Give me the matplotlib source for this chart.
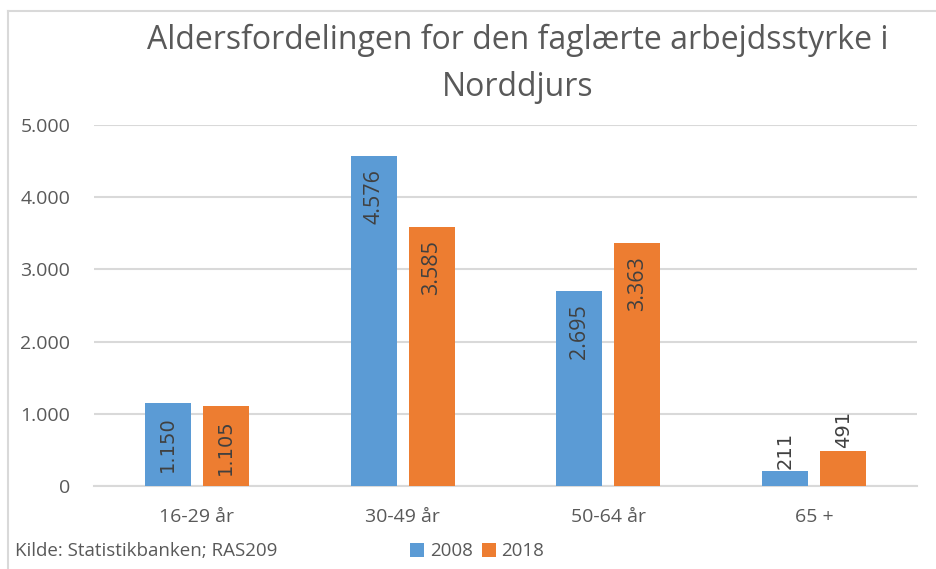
import matplotlib
matplotlib.use("Agg")
import matplotlib.pyplot as plt
import numpy as np
from matplotlib.patches import Patch
from matplotlib.lines import Line2D

categories = ["16-29 år", "30-49 år", "50-64 år", "65 +"]
series_names = ["2008", "2018"]
values_2008 = [1150, 4576, 2695, 211]
values_2018 = [1105, 3585, 3363, 491]
yticks = [0, 1000, 2000, 3000, 4000, 5000]
ytick_labels = ["0", "1.000", "2.000", "3.000", "4.000", "5.000"]
title = "Aldersfordelingen for den faglærte arbejdsstyrke i\nNorddjurs"
source = "Kilde: Statistikbanken; RAS209"

colors = ["#5B9BD5", "#ED7D31"]
text_color = "#595959"
label_color = "#404040"
FONT = "Open Sans"

fig = plt.figure(figsize=(9.36, 5.69), dpi=100)
ax = fig.add_axes([0.1004, 0.1459, 0.8793, 0.6344])

x = np.arange(len(categories))
width = 0.224
offset = 0.141
bars = []
for i, (vals, col) in enumerate(zip([values_2008, values_2018], colors)):
    b = ax.bar(x + (i * 2 - 1) * offset, vals, width, color=col, label=series_names[i], zorder=3)
    bars.append(b)

def fmt(v):
    return f"{v:,}".replace(",", ".")

for b in bars:
    for j, rect in enumerate(b):
        v = rect.get_height()
        cx = rect.get_x() + rect.get_width() / 2
        fam = "DejaVu Sans" if j in (0, 3) else FONT
        fs = 14 if j in (0, 3) else 15.5
        if v > 800:
            ax.annotate(fmt(v), (cx, v), xytext=(0, -9.5), textcoords="offset points",
                        rotation=90, ha="center", va="top", fontsize=fs,
                        color=label_color, family=fam, zorder=4)
        else:
            ax.annotate(fmt(v), (cx, v), xytext=(0, 1.5), textcoords="offset points",
                        rotation=90, ha="center", va="bottom", fontsize=fs,
                        color=label_color, family=fam, zorder=4)

ax.set_xlim(-0.5, len(categories) - 0.5)
ax.set_ylim(0, 5000)
ax.set_yticks(yticks)
ax.set_yticklabels(ytick_labels, family=FONT, fontsize=14, color=text_color)
ax.set_xticks(x)
ax.set_xticklabels(categories, family=FONT, fontsize=14, color=text_color)
ax.tick_params(axis="both", length=0)
ax.tick_params(axis="y", pad=17)
ax.tick_params(axis="x", pad=16)
ax.grid(axis="y", color="#D9D9D9", linewidth=1.5, zorder=0)
for s in ["top", "right", "left"]:
    ax.spines[s].set_visible(False)
ax.spines["bottom"].set_color("#D9D9D9")
ax.spines["bottom"].set_linewidth(1.5)

fig.text(0.553, 0.958, title, ha="center", va="top", fontsize=23,
         color=text_color, family=FONT, linespacing=1.55)

fig.text(0.016, 0.031, source, ha="left", va="center", fontsize=13.5,
         color=text_color, family=FONT)

handles = [Patch(facecolor=c, edgecolor="none", label=n) for c, n in zip(colors, series_names)]
leg = fig.legend(handles=handles, loc="center left", bbox_to_anchor=(0.438, 0.031),
                 ncol=2, frameon=False, handlelength=0.75, handleheight=0.75,
                 handletextpad=0.3, columnspacing=0.5, borderaxespad=0, borderpad=0,
                 prop={"family": FONT, "size": 13.5})
for t in leg.get_texts():
    t.set_color(text_color)

# chart border (top and left edges as visible in reference)
fig.add_artist(Line2D([0.0085, 1.0], [0.981, 0.981], transform=fig.transFigure,
                      color="#D9D9D9", linewidth=1.5))
fig.add_artist(Line2D([0.0085, 0.0085], [0.0, 0.981], transform=fig.transFigure,
                      color="#D9D9D9", linewidth=1.5))

fig.savefig("out.png", dpi=100, facecolor="white")
